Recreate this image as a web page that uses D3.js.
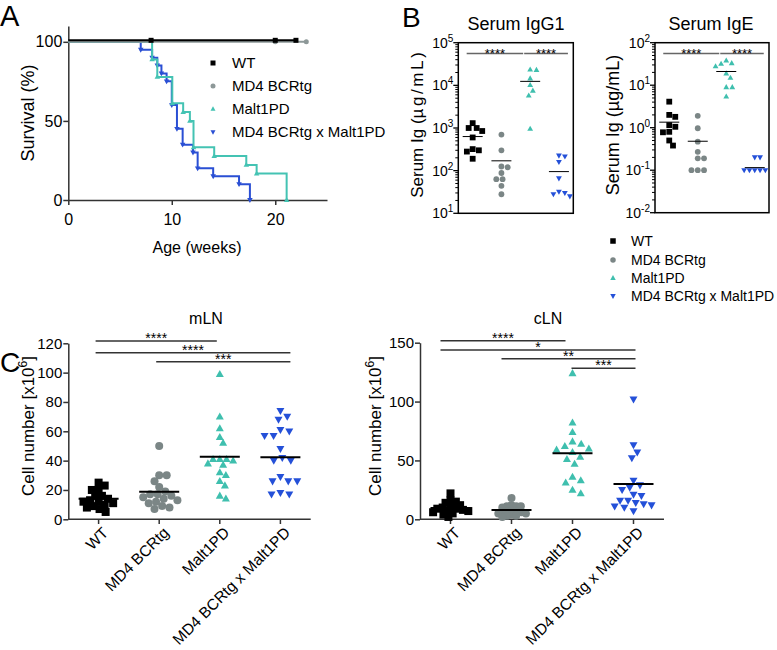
<!DOCTYPE html>
<html><head><meta charset="utf-8">
<script src="https://cdn.jsdelivr.net/npm/d3@7"></script>
<style>
body{margin:0;background:#fff}
text{font-family:'Liberation Sans', Arial, Helvetica, sans-serif; fill:#000}
</style>
</head><body>
<svg id="c" width="777" height="650" xmlns="http://www.w3.org/2000/svg"></svg>
<script>
// ---------------- DATA ----------------
const groups = ["WT", "MD4 BCRtg", "Malt1PD", "MD4 BCRtg x Malt1PD"];
const colors = ["#000000", "#7b8686", "#3fbfae", "#2450d8"];
const lineColors = ["#000000", "#8d9898", "#44c3b3", "#2a4fd4"];

// Panel A: survival (Kaplan-Meier)
const survXTicks = [0, 10, 20];
const survYTicks = [0, 50, 100];
const survEndWT = 22, survEndMD4 = 23;
const censorWT = [8, 20, 22];
const censorMD4 = [20, 23];
const survTimesMalt = [8.1, 8.6, 10.05, 11.1, 11.75, 12.1, 14.1, 17.2, 18.2, 21.1];
const survLevelsMalt = [88.9, 77.8, 61.1, 55.6, 50.0, 33.3, 27.8, 22.2, 16.7, 0];
const survTimesDbl = [7.0, 8.1, 8.6, 9.0, 9.5, 10.0, 10.5, 11.05, 12.05, 12.5, 14.0, 16.5, 17.55];
const survLevelsDbl = [95, 90, 85, 80, 75, 60, 45, 35, 30, 20, 15, 10, 0];

// Panel B: serum Ig (µg/mL)
const igg1 = [
  [1300, 1000, 1000, 850, 600, 320, 300, 280, 190],
  [700, 300, 125, 120, 88, 63, 63, 44, 28],
  [23500, 23000, 14600, 10200, 7500, 5800, 960],
  [225, 215, 160, 66, 32, 30, 28, 25]
];
const igg1Mean = [630, 170, 12400, 95];
const ige = [
  [4.1, 2.0, 1.8, 1.15, 1.05, 0.8, 0.78, 0.5, 0.38],
  [1.9, 0.97, 0.47, 0.27, 0.19, 0.19, 0.1, 0.1, 0.1],
  [38, 33, 32, 28, 19, 15, 9, 9, 5.4],
  [0.2, 0.2, 0.1, 0.1, 0.1, 0.1, 0.1]
];
const igeMean = [1.35, 0.48, 21, 0.115];
const igg1Sig = [[0, 2, "****", 56000], [2, 3, "****", 56000]];
const igeSig = [[0, 2, "****", 56], [2, 3, "****", 56]];

// Panel C: cell numbers (x10^6)
const mlnTicks = [0, 20, 40, 60, 80, 100, 120];
const clnTicks = [0, 50, 100, 150];
const mln = [
  [25, 23, 20, 20, 16, 16, 14, 13, 12, 12, 11, 10, 9, 8, 7, 5],
  [50, 30, 30, 26, 22, 19, 17, 17, 16, 15, 14, 13, 12, 11, 9, 8, 7],
  [99, 70, 62, 56, 52, 41, 41, 41, 40, 38, 37, 32, 30, 26, 23, 16, 14],
  [74, 70, 68, 61, 60, 57, 57, 48, 42, 40, 40, 29, 26, 26, 26, 18, 17, 17]
];
const mlnMean = [14, 18.8, 42.6, 42.3];
const cln = [
  [22, 16, 15, 14, 12, 11, 10, 9, 9, 8, 7, 7, 6, 5, 4, 2],
  [18, 12, 11, 11, 11, 10, 8, 7, 7, 6, 6, 5, 5, 4, 3, 3, 2],
  [124, 82, 74, 66, 64, 62, 60, 59, 57, 53, 51, 47, 36, 33, 31, 25, 22],
  [102, 63, 57, 52, 33, 29, 27, 25, 21, 20, 16, 16, 14, 13, 12, 11, 10, 7]
];
const clnMean = [9.5, 7.9, 56, 30];
const mlnSig = [[0, 2, "****", 121.5], [0, 3, "****", 113.6], [1, 3, "***", 107.4]];
const clnSig = [[0, 2, "****", 151.7], [0, 3, "*", 143.9], [1, 3, "**", 136.3], [2, 3, "***", 128.4]];

// ---------------- HELPERS ----------------
const svg = d3.select("#c");
svg.append("rect").attr("width", 777).attr("height", 650).attr("fill", "#fff");

function marker(g, k, x, y, s, fill) {
  if (k === 0) {
    g.append("rect").attr("x", x - s / 2).attr("y", y - s / 2).attr("width", s).attr("height", s).attr("fill", fill);
  } else if (k === 1) {
    g.append("circle").attr("cx", x).attr("cy", y).attr("r", s / 2).attr("fill", fill);
  } else {
    const h = s * 0.88;
    const pts = k === 2
      ? [[x, y - h * 0.6], [x - s / 2, y + h * 0.4], [x + s / 2, y + h * 0.4]]
      : [[x, y + h * 0.6], [x - s / 2, y - h * 0.4], [x + s / 2, y - h * 0.4]];
    g.append("path").attr("d", "M" + pts.map(p => p.join(",")).join("L") + "Z").attr("fill", fill);
  }
}

function swarmOnce(vals, ys, d) {
  const pts = vals.map(v => ({ v, y: ys(v), x: 0 })).sort((a, b) => a.y - b.y);
  const placed = [];
  pts.forEach(p => {
    const near = placed.filter(q => Math.abs(q.y - p.y) < d);
    const cands = [0];
    near.forEach(q => {
      const dx = Math.sqrt(d * d - (q.y - p.y) ** 2);
      cands.push(q.x + dx, q.x - dx);
    });
    cands.sort((a, b) => (Math.abs(a) - Math.abs(b)) || (b - a));
    for (const c of cands) {
      if (near.every(q => (q.x - c) ** 2 + (q.y - p.y) ** 2 >= d * d - 0.01)) { p.x = c; break; }
    }
    placed.push(p);
  });
  return pts;
}
function swarm(vals, ys, d, limit) {
  let pts;
  for (let dd = d; dd >= 2; dd -= 0.25) {
    pts = swarmOnce(vals, ys, dd);
    if (d3.max(pts, p => Math.abs(p.x)) <= limit) return pts;
  }
  return pts;
}

function styleAxis(sel, fs) {
  sel.selectAll("path.domain").attr("stroke", "#333").attr("stroke-width", 1.5);
  sel.selectAll(".tick line").attr("stroke", "#333").attr("stroke-width", 1.5);
  sel.selectAll(".tick text").attr("font-size", fs).attr("fill", "#000")
    .style("font-family", "'Liberation Sans', Arial, sans-serif");
}

function panelLabel(t, x, y, fs) {
  svg.append("text").attr("x", x).attr("y", y).attr("font-size", fs).text(t);
}

// ---------------- PANEL A ----------------
(function () {
  const g = svg.append("g");
  const x = d3.scaleLinear().domain([0, 25]).range([68.3, 327]);
  const y = d3.scaleLinear().domain([0, 110]).range([200, 26]);

  const ax = g.append("g").attr("transform", "translate(0,200)")
    .call(d3.axisBottom(x).tickValues(survXTicks).tickSize(5).tickSizeOuter(0).tickPadding(9));
  styleAxis(ax, 16);
  const ay = g.append("g").attr("transform", "translate(68.3,0)")
    .call(d3.axisLeft(y).tickValues(survYTicks).tickSize(5).tickSizeOuter(0).tickPadding(1));
  styleAxis(ay, 16);

  const line = d3.line().x(d => x(d[0])).y(d => y(d[1]));
  function steps(times, levels) {
    const pts = [[0, 100]]; let prev = 100;
    times.forEach((t, i) => { pts.push([t, prev]); pts.push([t, levels[i]]); prev = levels[i]; });
    return pts;
  }
  g.append("path").attr("d", line(steps(survTimesDbl, survLevelsDbl)))
    .attr("fill", "none").attr("stroke", lineColors[3]).attr("stroke-width", 2);
  survTimesDbl.forEach((t, i) => marker(g, 3, x(t), y(survLevelsDbl[i]), 5.5, lineColors[3]));
  g.append("path").attr("d", line(steps(survTimesMalt, survLevelsMalt)))
    .attr("fill", "none").attr("stroke", lineColors[2]).attr("stroke-width", 2);
  survTimesMalt.forEach((t, i) => marker(g, 2, x(t), y(survLevelsMalt[i]), 5.5, lineColors[2]));
  g.append("path").attr("d", line([[0, 100], [survEndMD4, 100]]))
    .attr("fill", "none").attr("stroke", lineColors[1]).attr("stroke-width", 2);
  censorMD4.forEach(t => marker(g, 1, x(t), y(100), 5, lineColors[1]));
  const gw = g.append("g").attr("transform", "translate(0,-1.5)");
  gw.append("path").attr("d", line([[0, 100], [survEndWT, 100]]))
    .attr("fill", "none").attr("stroke", "#000").attr("stroke-width", 2);
  censorWT.forEach(t => marker(gw, 0, x(t), y(100), 5, "#000"));

  const ly = [63, 86, 109, 132];
  groups.forEach((name, i) => {
    marker(g, i, 213, ly[i], 5, lineColors[i]);
    g.append("text").attr("x", 232).attr("y", ly[i]).attr("dy", "0.35em").attr("font-size", 15).text(name);
  });

  g.append("text").attr("transform", "translate(28,113) rotate(-90)").attr("text-anchor", "middle")
    .attr("dy", "0.35em").attr("font-size", 18).text("Survival (%)");
  g.append("text").attr("x", 197).attr("y", 253).attr("text-anchor", "middle").attr("font-size", 16).text("Age (weeks)");
  panelLabel("A", 0, 26, 29);
})();

// ---------------- PANEL B ----------------
function panelB(cfg) {
  const g = svg.append("g");
  const x = d3.scaleBand().domain(d3.range(4)).range([cfg.left, cfg.right]);
  const cx = i => x(i) + x.bandwidth() / 2;
  const y = d3.scaleLog().domain([Math.pow(10, cfg.e0), Math.pow(10, cfg.e1)]).range([cfg.bottom, cfg.top]);

  for (let e = cfg.e0; e < cfg.e1; e++) {
    for (let m = 2; m <= 9; m++) {
      const yy = y(m * Math.pow(10, e));
      g.append("line").attr("x1", cfg.left - 3).attr("x2", cfg.left).attr("y1", yy).attr("y2", yy)
        .attr("stroke", "#000").attr("stroke-width", 1);
    }
  }
  for (let e = cfg.e0; e <= cfg.e1; e++) {
    const yy = y(Math.pow(10, e));
    g.append("line").attr("x1", cfg.left - 5).attr("x2", cfg.left).attr("y1", yy).attr("y2", yy)
      .attr("stroke", "#000").attr("stroke-width", 1.3);
    const t = g.append("text").attr("x", cfg.left - 5).attr("y", yy + 5).attr("text-anchor", "end").attr("font-size", 14);
    t.append("tspan").text("10");
    t.append("tspan").attr("dy", -6).attr("font-size", 10).text(String(e));
  }
  g.append("rect").attr("x", cfg.left).attr("y", cfg.top).attr("width", cfg.right - cfg.left)
    .attr("height", cfg.bottom - cfg.top).attr("fill", "none").attr("stroke", "#000").attr("stroke-width", 1.5);

  cfg.data.forEach((vals, i) => {
    swarm(vals, y, 6.3, 11).forEach(p => marker(g, i, cx(i) + p.x, p.y, 5.8, colors[i]));
  });
  cfg.means.forEach((m, i) => {
    g.append("line").attr("x1", cx(i) - 10).attr("x2", cx(i) + 10).attr("y1", y(m)).attr("y2", y(m))
      .attr("stroke", "#000").attr("stroke-width", 1);
  });
  cfg.sig.forEach(s => {
    const x1 = cx(s[0]) - 6, x2 = cx(s[1]) + (s[1] === 3 ? 9 : -7), yy = y(s[3]);
    g.append("line").attr("x1", x1).attr("x2", x2).attr("y1", yy).attr("y2", yy).attr("stroke", "#666").attr("stroke-width", 1.5);
    g.append("text").attr("x", (x1 + x2) / 2).attr("y", yy + 5).attr("text-anchor", "middle").attr("font-size", 13)
      .attr("fill", "#333").text(s[2]);
  });
  g.append("text").attr("x", cfg.titleX).attr("y", 30).attr("text-anchor", "middle").attr("font-size", 18).text(cfg.title);
  const yl = g.append("text").attr("transform", `translate(${cfg.ylabX},125) rotate(-90)`).attr("text-anchor", "middle")
    .attr("dy", "0.35em").attr("font-size", cfg.ylabFs);
  yl.append("tspan").text("Serum Ig (");
  yl.append("tspan").attr("letter-spacing", cfg.spacing).text("µg/mL");
  yl.append("tspan").text(")");
}
panelB({ left: 458.3, right: 573.3, top: 42.7, bottom: 213.3, e0: 1, e1: 5, data: igg1, means: igg1Mean,
  sig: igg1Sig, title: "Serum IgG1", titleX: 516, ylabX: 417, ylabFs: 17, spacing: 2.6 });
panelB({ left: 655, right: 769, top: 42.7, bottom: 212.7, e0: -2, e1: 2, data: ige, means: igeMean,
  sig: igeSig, title: "Serum IgE", titleX: 711, ylabX: 613, ylabFs: 18, spacing: 0 });
panelLabel("B", 402, 27, 28);

(function () {
  const ly = [241, 260, 278, 296];
  groups.forEach((name, i) => {
    marker(svg, i, 613, ly[i], 5.5, colors[i]);
    svg.append("text").attr("x", 631).attr("y", ly[i]).attr("dy", "0.35em").attr("font-size", 14).text(name);
  });
})();

// ---------------- PANEL C ----------------
function panelC(cfg) {
  const g = svg.append("g");
  const x = d3.scaleBand().domain(d3.range(4)).range([cfg.left, cfg.right]);
  const cx = i => x(i) + x.bandwidth() / 2;
  const y = d3.scaleLinear().domain([0, cfg.max]).range([519.3, cfg.top]);

  const ay = g.append("g").attr("transform", `translate(${cfg.left},0)`)
    .call(d3.axisLeft(y).tickValues(cfg.ticks).tickSize(5).tickSizeOuter(0).tickPadding(1));
  styleAxis(ay, 15);
  g.append("line").attr("x1", cfg.left).attr("x2", cfg.right).attr("y1", 519.3).attr("y2", 519.3)
    .attr("stroke", "#333").attr("stroke-width", 1.5);
  groups.forEach((name, i) => {
    g.append("line").attr("x1", cx(i)).attr("x2", cx(i)).attr("y1", 519.3).attr("y2", 524)
      .attr("stroke", "#333").attr("stroke-width", 1.5);
    g.append("text").attr("transform", `translate(${cx(i) + 3},526) rotate(-45)`).attr("text-anchor", "end")
      .attr("dy", "0.7em").attr("font-size", 15.5).text(name);
  });

  cfg.data.forEach((vals, i) => {
    swarm(vals, y, 9, 19).forEach(p => marker(g, i, cx(i) + p.x, p.y, 8, colors[i]));
  });
  cfg.means.forEach((m, i) => {
    g.append("line").attr("x1", cx(i) - 20).attr("x2", cx(i) + 20).attr("y1", y(m)).attr("y2", y(m))
      .attr("stroke", "#000").attr("stroke-width", 2);
  });
  cfg.sig.forEach(s => {
    const x1 = cx(s[0]) + cfg.sOff(s[0]), x2 = cx(s[1]) + cfg.eOff(s[1]), yy = y(s[3]);
    g.append("line").attr("x1", x1).attr("x2", x2).attr("y1", yy).attr("y2", yy).attr("stroke", "#333").attr("stroke-width", 1.5);
    g.append("text").attr("x", (x1 + x2) / 2).attr("y", yy + 2).attr("text-anchor", "middle").attr("font-size", 14)
      .attr("fill", "#222").text(s[2]);
  });
  g.append("text").attr("x", cfg.titleX).attr("y", 324).attr("text-anchor", "middle").attr("font-size", 16).text(cfg.title);
  const yl = g.append("text").attr("transform", `translate(${cfg.ylabX},426) rotate(-90)`).attr("text-anchor", "middle")
    .attr("dy", "0.35em").attr("font-size", 17);
  yl.append("tspan").text("Cell number [x10");
  yl.append("tspan").attr("dy", -7).attr("font-size", 12).text("6");
  yl.append("tspan").attr("dy", 7).text("]");
}
panelC({ left: 68.3, right: 310.7, top: 343.3, max: 120, ticks: mlnTicks, data: mln, means: mlnMean, sig: mlnSig,
  title: "mLN", titleX: 206, ylabX: 28,
  sOff: a => -3, eOff: b => (b === 3 ? 10 : -3) });
panelC({ left: 420, right: 664, top: 342.7, max: 150, ticks: clnTicks, data: cln, means: clnMean, sig: clnSig,
  title: "cLN", titleX: 548, ylabX: 375,
  sOff: a => (a === 2 ? -1 : -10), eOff: b => (b === 3 ? 2 : -7) });
panelLabel("C", 0, 372, 28);
</script>
</body></html>
